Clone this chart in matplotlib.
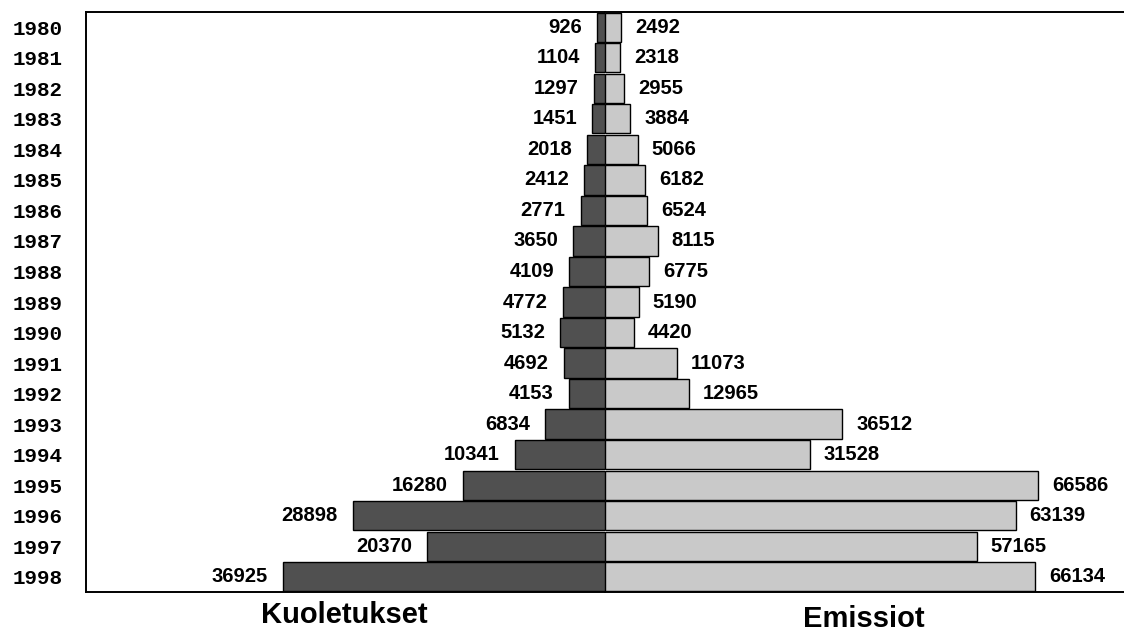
import matplotlib
matplotlib.use("Agg")
import matplotlib.pyplot as plt
import numpy as np

years = [1980, 1981, 1982, 1983, 1984, 1985, 1986, 1987, 1988, 1989,
         1990, 1991, 1992, 1993, 1994, 1995, 1996, 1997, 1998]
kuoletukset = [926, 1104, 1297, 1451, 2018, 2412, 2771, 3650, 4109, 4772,
               5132, 4692, 4153, 6834, 10341, 16280, 28898, 20370, 36925]
emissiot = [2492, 2318, 2955, 3884, 5066, 6182, 6524, 8115, 6775, 5190,
            4420, 11073, 12965, 36512, 31528, 66586, 63139, 57165, 66134]
left_title = "Kuoletukset"
right_title = "Emissiot"

W, H = 1124, 633
fig = plt.figure(figsize=(W / 100, H / 100), dpi=100)
fig.patch.set_facecolor("white")

x0, xc, x1 = 86 / W, 605 / W, 1.0
y_top, y_bot = 1 - 12 / H, 1 - 592 / H
axL = fig.add_axes([x0, y_bot, xc - x0, y_top - y_bot])
axR = fig.add_axes([xc, y_bot, x1 - xc, y_top - y_bot], sharey=axL)

pos = np.arange(len(years))
bh = 0.96
axL.barh(pos, kuoletukset, height=bh, color="#505050", edgecolor="black", linewidth=1.0)
axR.barh(pos, emissiot, height=bh, color="#c9c9c9", edgecolor="black", linewidth=1.0)

axL.set_xlim(59500, 0)
axR.set_xlim(0, 79800)
axL.set_ylim(len(years) - 0.5, -0.5)

vfont = dict(family="Liberation Sans", fontweight="bold", fontsize=14.5)
for p, v in zip(pos, kuoletukset):
    axL.annotate(str(v), (v, p), xytext=(-11, 0), textcoords="offset points",
                 ha="right", va="center", **vfont)
for p, v in zip(pos, emissiot):
    axR.annotate(str(v), (v, p), xytext=(10, 0), textcoords="offset points",
                 ha="left", va="center", **vfont)

axL.set_yticks(pos)
axL.set_yticklabels([str(y) for y in years], family="Liberation Mono",
                    fontweight="bold", fontsize=15)
axL.tick_params(axis="y", length=0, pad=17)
axL.tick_params(axis="x", length=0, labelbottom=False)
axR.tick_params(axis="both", length=0, labelbottom=False, labelleft=False)

for ax in (axL, axR):
    for s in ax.spines.values():
        s.set_linewidth(1.4)
    ax.spines["right"].set_visible(False)
    ax.set_facecolor("white")
axR.spines["left"].set_visible(False)

fig.text(344 / W, 1 - 615 / H, left_title, ha="center", va="center",
         family="Liberation Sans", fontweight="bold", fontsize=21)
fig.text(864 / W, 1 - 619 / H, right_title, ha="center", va="center",
         family="Liberation Sans", fontweight="bold", fontsize=21)

fig.savefig("out.png", dpi=100, facecolor="white")
